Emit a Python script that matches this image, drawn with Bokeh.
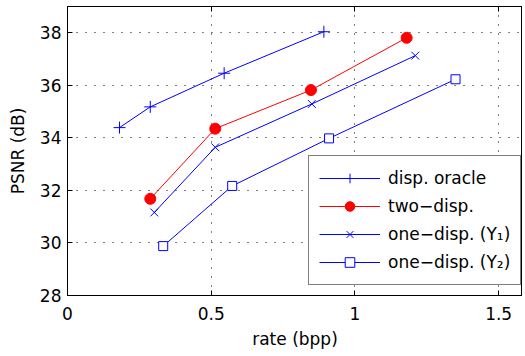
from bokeh.plotting import figure
from bokeh.models import LinearAxis, FixedTicker, Range1d, Legend, LegendItem
from bokeh.embed import file_html
from bokeh.resources import INLINE

# ---- data ----
oracle_x = [0.181, 0.288, 0.545, 0.892]
oracle_y = [34.39, 35.18, 36.46, 38.04]
two_x = [0.288, 0.514, 0.847, 1.18]
two_y = [31.68, 34.35, 35.82, 37.81]
y1_x = [0.302, 0.514, 0.850, 1.21]
y1_y = [31.16, 33.64, 35.29, 37.13]
y2_x = [0.333, 0.573, 0.910, 1.35]
y2_y = [29.88, 32.17, 33.98, 36.23]
x_ticks = [0, 0.5, 1, 1.5]
x_tick_labels = {0: "0", 0.5: "0.5", 1: "1", 1.5: "1.5"}
y_ticks = [28, 30, 32, 34, 36, 38]
labels = ["disp. oracle", "two\u2212disp.", "one\u2212disp. (Y\u2081)", "one\u2212disp. (Y\u2082)"]

FONT = "DejaVu Sans"
FS = "17px"
BLUE = "#0000ff"
RED = "#ff0000"

p = figure(frame_width=455, frame_height=289, output_backend="svg", toolbar_location=None,
           x_range=Range1d(0, 1.583), y_range=Range1d(28, 39),
           min_border_left=67, min_border_right=0, min_border_top=6, min_border_bottom=0)
p.outline_line_color = "black"
p.outline_line_width = 1
p.background_fill_color = "white"
p.border_fill_color = "white"

# axes styling
for ax in [p.xaxis[0], p.yaxis[0]]:
    ax.major_tick_in = 5
    ax.major_tick_out = 0
    ax.minor_tick_line_color = None
    ax.axis_line_color = "black"
    ax.major_tick_line_color = "black"
    ax.major_label_text_font = FONT
    ax.major_label_text_font_size = FS
    ax.major_label_text_color = "black"
    ax.axis_label_text_font = FONT
    ax.axis_label_text_font_size = FS
    ax.axis_label_text_font_style = "normal"
    ax.axis_label_text_color = "black"

p.xaxis.ticker = FixedTicker(ticks=x_ticks)
p.xaxis.major_label_overrides = x_tick_labels
p.yaxis.ticker = FixedTicker(ticks=y_ticks)
p.xaxis.axis_label = "rate (bpp)"
p.yaxis.axis_label = "PSNR (dB)"
p.xaxis.major_label_standoff = 11
p.yaxis.major_label_standoff = 6
p.xaxis.axis_label_standoff = 6
p.yaxis.axis_label_standoff = 9

# top axis (ticks only, no labels)
top = LinearAxis(ticker=FixedTicker(ticks=x_ticks), major_tick_in=5, major_tick_out=0,
                 minor_tick_line_color=None,
                 major_label_overrides={t: "" for t in x_ticks},
                 major_label_standoff=0, axis_line_color="black")
p.add_layout(top, "above")

# grid
p.xgrid.ticker = FixedTicker(ticks=x_ticks)
p.ygrid.ticker = FixedTicker(ticks=y_ticks)
for g in [p.xgrid[0], p.ygrid[0]]:
    g.grid_line_color = "black"
    g.grid_line_dash = "1 8"
    g.grid_line_width = 1

# series
l1 = p.line(oracle_x, oracle_y, line_color=BLUE, line_width=1)
m1 = p.scatter(oracle_x, oracle_y, marker="cross", size=12, line_color=BLUE, line_width=1)
l2 = p.line(two_x, two_y, line_color=RED, line_width=1)
m2 = p.scatter(two_x, two_y, marker="circle", size=11, line_color=RED, fill_color=RED)
l3 = p.line(y1_x, y1_y, line_color=BLUE, line_width=1)
m3 = p.scatter(y1_x, y1_y, marker="x", size=11, line_color=BLUE, line_width=1)
l4 = p.line(y2_x, y2_y, line_color=BLUE, line_width=1)
m4 = p.scatter(y2_x, y2_y, marker="square", size=9, line_color=BLUE, fill_color="white", line_width=1)

legend = Legend(items=[
    LegendItem(label=labels[0], renderers=[l1, m1]),
    LegendItem(label=labels[1], renderers=[l2, m2]),
    LegendItem(label=labels[2], renderers=[l3, m3]),
    LegendItem(label=labels[3], renderers=[l4, m4]),
], location=(241, 10))
legend.label_text_font = FONT
legend.label_text_font_size = FS
legend.label_text_color = "black"
legend.glyph_width = 61
legend.glyph_height = 24
legend.label_height = 24
legend.label_standoff = 8
legend.spacing = 4
legend.padding = 10
legend.margin = 0
legend.border_line_color = "black"
legend.border_line_width = 1
legend.background_fill_alpha = 1
p.add_layout(legend, "center")

open("out.html", "w").write(file_html(p, INLINE))
